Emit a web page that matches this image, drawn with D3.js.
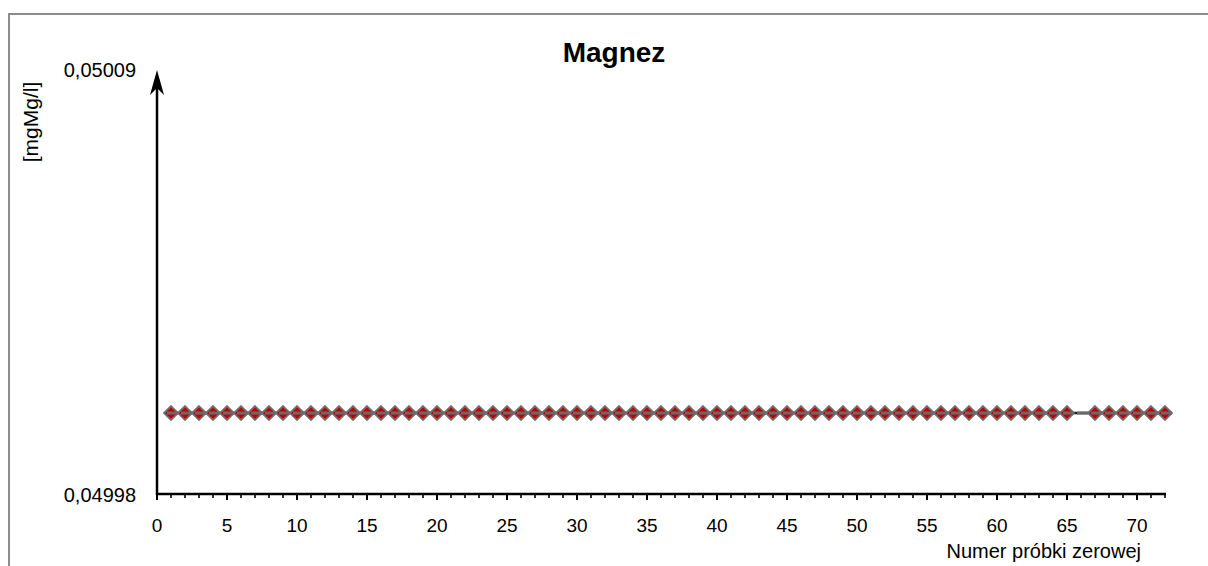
<!DOCTYPE html>
<html>
<head>
<meta charset="utf-8">
<script src="https://cdn.jsdelivr.net/npm/d3@7"></script>
<style>
  html, body { margin: 0; padding: 0; background: #fff; }
  svg { display: block; font-family: "Liberation Sans", Arial, sans-serif; }
</style>
</head>
<body>
<svg id="chart" width="1208" height="566"></svg>
<script>
// dane: numer próbki i wynik [mgMg/l]
const sampleNos = d3.range(1, 73);
const seriesVals = sampleNos.map(() => 0.050001);
// próbka 66 bez znacznika (brak pomiaru)
const markerVals = sampleNos.map(n => n === 66 ? null : 0.050001);
const yTickLabels = ['0,04998', '0,05009'];
const yDomain = [0.04998, 0.05009];
const xTicks = d3.range(0, 71, 5);

const svg = d3.select('#chart');
const margin = { top: 70, bottom: 72, left: 157, right: 42 };
const W = 1208, H = 566;

const x = d3.scaleLinear([0, 72], [margin.left, W - margin.right - 1]);
const y = d3.scaleLinear(yDomain, [H - margin.bottom, margin.top]);

// ramka wykresu
svg.append('rect')
  .attr('x', 9).attr('y', 14)
  .attr('width', 1210).attr('height', 600)
  .attr('fill', 'none')
  .attr('stroke', '#8c8c8c')
  .attr('stroke-width', 2);

// tytuł
svg.append('text')
  .attr('x', 614).attr('y', 62)
  .attr('text-anchor', 'middle')
  .attr('font-size', 28).attr('font-weight', 'bold')
  .text('Magnez');

// oś X
const xAxis = svg.append('g');
xAxis.append('line')
  .attr('x1', x(0) - 1).attr('x2', x(72) + 1)
  .attr('y1', y(yDomain[0])).attr('y2', y(yDomain[0]))
  .attr('stroke', '#000').attr('stroke-width', 2.5);
xAxis.selectAll('line.tick')
  .data(d3.range(0, 73))
  .join('line')
    .attr('class', 'tick')
    .attr('x1', d => x(d)).attr('x2', d => x(d))
    .attr('y1', y(yDomain[0]))
    .attr('y2', d => y(yDomain[0]) + (d % 5 === 0 ? 6 : 4))
    .attr('stroke', '#000').attr('stroke-width', d => d % 5 === 0 ? 2 : 1.6);
xAxis.selectAll('text')
  .data(xTicks)
  .join('text')
    .attr('x', d => x(d))
    .attr('y', 532)
    .attr('text-anchor', 'middle')
    .attr('font-size', 19)
    .text(d => d);
svg.append('text')
  .attr('x', 1141).attr('y', 558)
  .attr('text-anchor', 'end')
  .attr('font-size', 20)
  .text('Numer próbki zerowej');

// oś Y ze strzałką
const y0 = y(yDomain[0]), y1 = y(yDomain[1]);
svg.append('line')
  .attr('x1', x(0)).attr('x2', x(0))
  .attr('y1', y0 + 1).attr('y2', y1 + 12)
  .attr('stroke', '#000').attr('stroke-width', 2.5);
svg.append('path')
  .attr('d', `M${x(0)},${y1} L${x(0) - 7},${y1 + 25} L${x(0)},${y1 + 18} L${x(0) + 7},${y1 + 25} Z`)
  .attr('fill', '#000');
svg.selectAll('text.ylab')
  .data(yDomain)
  .join('text')
    .attr('class', 'ylab')
    .attr('x', 136)
    .attr('y', (d, i) => y(d) + (i === 0 ? 8 : 7))
    .attr('text-anchor', 'end')
    .attr('font-size', 20)
    .text((d, i) => yTickLabels[i]);
svg.append('text')
  .attr('transform', 'translate(38,122) rotate(-90)')
  .attr('text-anchor', 'middle')
  .attr('font-size', 21)
  .text('[mgMg/l]');

// linia serii
const line = d3.line()
  .defined(d => d[1] != null)
  .x(d => x(d[0])).y(d => y(d[1]));
svg.append('path')
  .datum(sampleNos.map((n, i) => [n, seriesVals[i]]))
  .attr('d', line)
  .attr('fill', 'none')
  .attr('stroke', '#1a1a1a')
  .attr('stroke-width', 2.5);

// znaczniki: czerwone romby
const r = 7;
svg.append('g')
  .selectAll('path')
  .data(sampleNos.map((n, i) => [n, markerVals[i]]).filter(d => d[1] != null))
  .join('path')
    .attr('d', d => {
      const cx = x(d[0]), cy = y(d[1]);
      return `M${cx},${cy - r} L${cx + r},${cy} L${cx},${cy + r} L${cx - r},${cy} Z`;
    })
    .attr('fill', '#c00000')
    .attr('stroke', '#6e6e6e')
    .attr('stroke-width', 1.8);

// znaczniki: szare kreski
svg.append('g')
  .selectAll('rect')
  .data(sampleNos.map((n, i) => [n, seriesVals[i]]))
  .join('rect')
    .attr('x', d => x(d[0]) - 4)
    .attr('y', d => y(d[1]) - 1.5)
    .attr('width', 11)
    .attr('height', 3)
    .attr('fill', '#6a6a6a');
</script>
</body>
</html>
